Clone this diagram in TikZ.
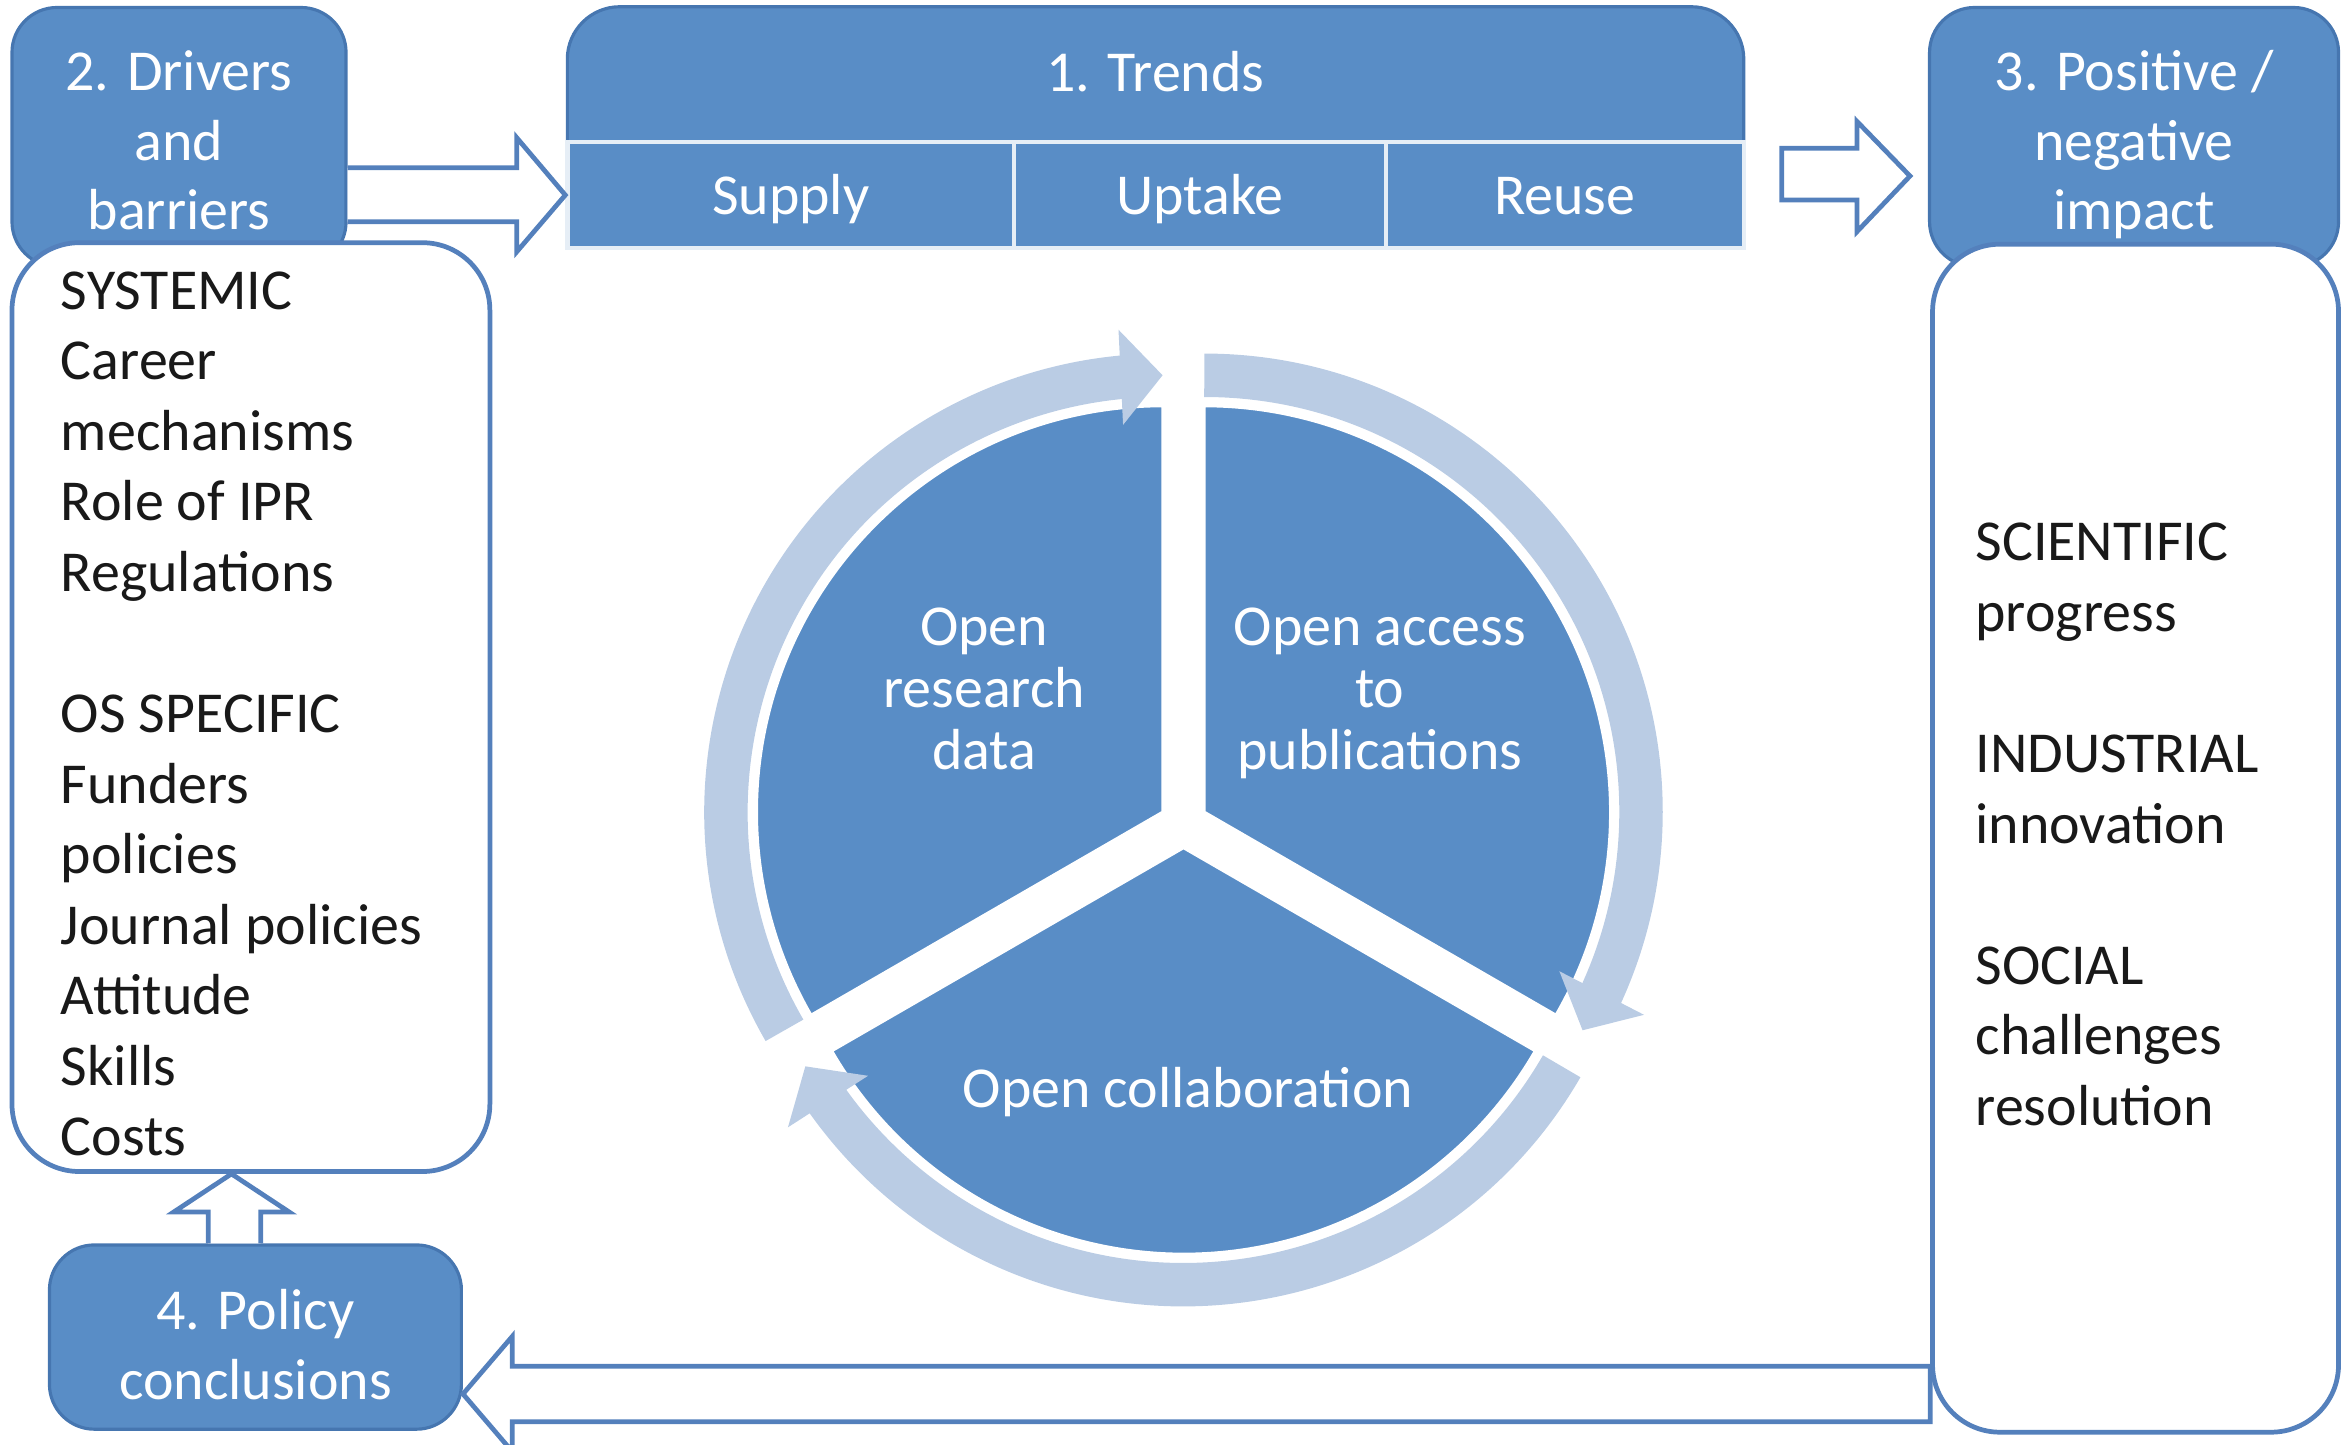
\documentclass[tikz,border=0pt]{standalone}
\usepackage{fontspec}
\setmainfont{Carlito}
\usepackage{tikz}
\usetikzlibrary{arrows.meta,bending,positioning}
\definecolor{boxblue}{RGB}{89,141,198}
\definecolor{edgeblue}{RGB}{70,118,176}
\definecolor{lineblue}{RGB}{84,128,188}
\definecolor{ringblue}{RGB}{186,204,228}
\newcommand{\topgap}[1]{\rule{0pt}{#1}}
\tikzset{
  blk/.style={fill=boxblue, draw=edgeblue, line width=0.6pt, rounded corners=0.3cm, text=white, align=center, font=\fontsize{11}{13.2}\selectfont, inner sep=0pt},
  cell/.style={fill=boxblue, draw=white!85!boxblue, line width=0.8pt, text=white, font=\fontsize{11}{13.2}\selectfont, minimum height=0.712cm, inner sep=0pt, text height=0.27cm, text depth=0.01cm},
  panel/.style={fill=white, draw=lineblue, line width=0.9pt, rounded corners=0.45cm},
  listtxt/.style={align=left, font=\fontsize{11}{13.4}\selectfont, text=black!90, inner sep=0pt},
  hollow/.style={fill=white, draw=lineblue, line width=0.9pt, line join=miter},
  ring/.style={draw=ringblue, line width=0.29cm},
  piece/.style={fill=boxblue, draw=white, line width=0.5pt},
  pietxt/.style={text=white, align=center, font=\fontsize{11}{11.8}\selectfont, inner sep=0pt}
}
\begin{document}
\begin{tikzpicture}
    \useasboundingbox (0,0) rectangle (15.68,-9.64);
    \clip (0,0) rectangle (15.68,-9.64);
    % boxes 2 and 3
    \node[blk, minimum width=2.23cm, minimum height=1.73cm] (drv) at (1.195,-0.915) {\topgap{0.31cm}2. Drivers\\and\\barriers};
    \node[blk, minimum width=2.73cm, minimum height=1.73cm] (imp) at (14.245,-0.915) {\topgap{0.37cm}3. Positive /\\negative\\impact};
    % 1. trends
    \draw[fill=boxblue, draw=edgeblue, line width=0.6pt] (3.787,-0.946) -- (3.787,-0.395) arc[start angle=180, end angle=90, radius=0.35] -- (11.29,-0.045) arc[start angle=90, end angle=0, radius=0.35] -- (11.64,-0.946) -- cycle;
    \node[text=white, font=\fontsize{11}{13.2}\selectfont] (trd) at (7.713,-0.48) {1. Trends};
    \node[cell, minimum width=2.983cm] (sup) at (5.279,-1.302) {Supply};
    \node[cell, minimum width=2.48cm] (upt) at (8.01,-1.302) {Uptake};
    \node[cell, minimum width=2.39cm] (rus) at (10.445,-1.302) {Reuse};
    % lists
    \node[panel, minimum width=3.19cm, minimum height=6.20cm] (drvl) at (1.675,-4.72) {};
    \node[listtxt, anchor=north west] (drvtxt) at (0.40,-1.806) {SYSTEMIC\\Career\\mechanisms\\Role of IPR\\Regulations\\[13.4pt]OS SPECIFIC\\Funders\\policies\\Journal policies\\Attitude\\Skills\\Costs};
    \node[panel, minimum width=2.71cm, minimum height=7.93cm] (impl) at (14.255,-5.595) {};
    \node[listtxt, anchor=north west] (imptxt) at (13.18,-3.486) {SCIENTIFIC\\progress\\[13.4pt]INDUSTRIAL\\innovation\\[13.4pt]SOCIAL\\challenges\\resolution};
    \node[blk, minimum width=2.75cm, minimum height=1.23cm] (pol) at (1.705,-8.925) {\topgap{0.37cm}4. Policy\\conclusions};
    % block arrows
    \draw[hollow] (drv.east |- 0,-1.12) -- (3.45,-1.12) -- (3.45,-0.92) -- (sup.west) -- (3.45,-1.68) -- (3.45,-1.48) -- (drv.east |- 0,-1.48);
    \draw[hollow] ([xshift=0.24cm]rus.east |- 0,-0.99) -- (12.395,-0.99) -- (12.395,-0.81) -- ([xshift=-0.12cm]imp.west |- 0,-1.175) -- (12.395,-1.547) -- (12.395,-1.335) -- ([xshift=0.24cm]rus.east |- 0,-1.335) -- cycle;
    \draw[hollow] (impl.west |- 0,-9.12) -- (3.42,-9.12) -- (3.42,-8.92) -- (pol.east |- 0,-9.305) -- (3.42,-9.69) -- (3.42,-9.49) -- (impl.west |- 0,-9.49) -- cycle;
    \draw[hollow] (pol.north -| 1.39,0) -- (1.39,-8.09) -- (1.16,-8.09) -- (drvl.south -| 1.545,0) -- (1.93,-8.09) -- (1.74,-8.09) -- (pol.north -| 1.74,0);
    % cycle
    \draw[piece] (7.761,-5.42) -- ++(90:2.71) arc[start angle=90, end angle=210, radius=2.71] -- cycle;
    \draw[piece] (8.039,-5.42) -- ++(-30:2.71) arc[start angle=-30, end angle=90, radius=2.71] -- cycle;
    \draw[piece] (7.90,-5.66) -- ++(210:2.71) arc[start angle=210, end angle=330, radius=2.71] -- cycle;
    \draw[ring, -{Triangle[length=0.28cm, width=0.62cm]}] (7.761,-5.42) ++(210:2.915) arc[start angle=210, end angle=90, radius=2.915];
    \draw[ring, -{Triangle[length=0.28cm, width=0.62cm]}] (8.039,-5.42) ++(90:2.915) arc[start angle=90, end angle=-30, radius=2.915];
    \draw[ring, -{Triangle[length=0.28cm, width=0.62cm]}] (7.90,-5.66) ++(330:2.915) arc[start angle=330, end angle=210, radius=2.915];
    \node[pietxt] (ord) at (6.57,-4.60) {Open\\research\\data};
    \node[pietxt] (oap) at (9.21,-4.63) {Open access\\to\\publications};
    \node[pietxt] (ocl) at (7.93,-7.29) {Open collaboration};
\end{tikzpicture}
\end{document}
